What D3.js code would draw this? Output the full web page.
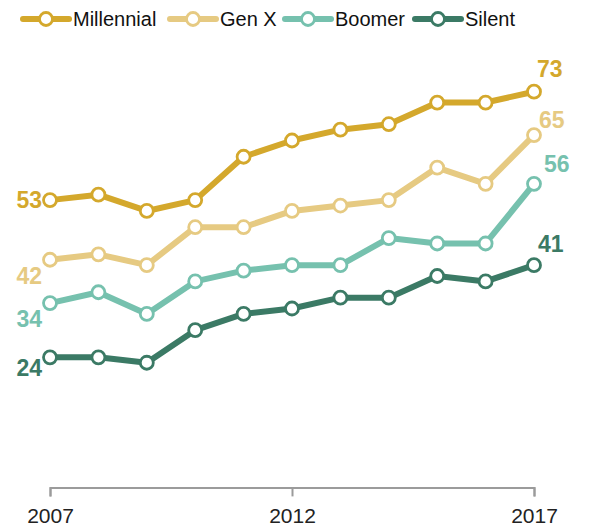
<!DOCTYPE html>
<html><head><meta charset="utf-8">
<script src="https://cdn.jsdelivr.net/npm/d3@7"></script>
<style>body{margin:0;background:#fff;} svg{display:block;}</style>
</head><body>
<script>
const years = [2007,2008,2009,2010,2011,2012,2013,2014,2015,2016,2017];
const millennial = [53,54,51,53,61,64,66,67,71,71,73];
const genX = [42,43,41,48,48,51,52,53,59,56,65];
const boomer = [34,36,32,38,40,41,41,46,45,45,56];
const silent = [24,24,23,29,32,33,35,35,39,38,41];
const seriesNames = ["Millennial","Gen X","Boomer","Silent"];
const colors = ["#d4a82c","#e6ca82","#76c1ae","#3b7a65"];
const xTicks = [2007,2012,2017];

const W=603,H=529;
const svg=d3.select("body").append("svg").attr("width",W).attr("height",H);
const x=d3.scaleLinear().domain([2007,2017]).range([50,534]);
const y=d3.scaleLinear().domain([0,73]).range([487.4,91.7]);
const font="'Liberation Sans',Arial,sans-serif";

// axis
const ax=d3.axisBottom(x).tickValues(xTicks).tickFormat(d3.format("d")).tickSizeInner(9).tickSizeOuter(9).tickPadding(12);
const gAx=svg.append("g").attr("transform",`translate(0,${y(0)})`).call(ax);
gAx.select(".domain").attr("stroke","#9b9b9b").attr("stroke-width",2);
gAx.selectAll(".tick line").attr("stroke","#9b9b9b").attr("stroke-width",2);
gAx.selectAll(".tick text").attr("fill","#222").style("font-family",font).style("font-size","21px");

const data=[millennial,genX,boomer,silent];
const line=d3.line().x((d,i)=>x(years[i])).y(d=>y(d));
data.forEach((vals,k)=>{
  const g=svg.append("g");
  g.append("path").datum(vals).attr("d",line).attr("fill","none").attr("stroke",colors[k]).attr("stroke-width",6).attr("stroke-linejoin","round");
  g.selectAll("circle").data(vals).join("circle").attr("cx",(d,i)=>x(years[i])).attr("cy",d=>y(d)).attr("r",6.5).attr("fill","#fff").attr("stroke",colors[k]).attr("stroke-width",2.8);
  const first=vals[0], last=vals[vals.length-1];
  const lOff=[0,16,16,11][k];
  svg.append("text").attr("x",42).attr("y",y(first)+lOff).attr("dy","0.35em").attr("text-anchor","end")
    .attr("fill",colors[k]).style("font-family",font).style("font-weight","bold").style("font-size","23px").text(first);
  const rdx=[3,5,10,4][k], rdy=[-23,-15,-20,-21][k];
  svg.append("text").attr("x",x(2017)+rdx).attr("y",y(last)+rdy).attr("dy","0.35em").attr("text-anchor","start")
    .attr("fill",colors[k]).style("font-family",font).style("font-weight","bold").style("font-size","23px").text(last);
});

// legend
const legX=[20,167,282,412];
seriesNames.forEach((n,k)=>{
  const g=svg.append("g").attr("transform",`translate(${legX[k]},19)`);
  g.append("line").attr("x1",3).attr("x2",49).attr("y1",0).attr("y2",0).attr("stroke",colors[k]).attr("stroke-width",6).attr("stroke-linecap","round");
  g.append("circle").attr("cx",26).attr("cy",0).attr("r",6.5).attr("fill","#fff").attr("stroke",colors[k]).attr("stroke-width",2.8);
  g.append("text").attr("x",53).attr("y",0).attr("dy","0.36em").attr("fill","#111").style("font-family",font).style("font-size","20px").text(n);
});
</script>
</body></html>
